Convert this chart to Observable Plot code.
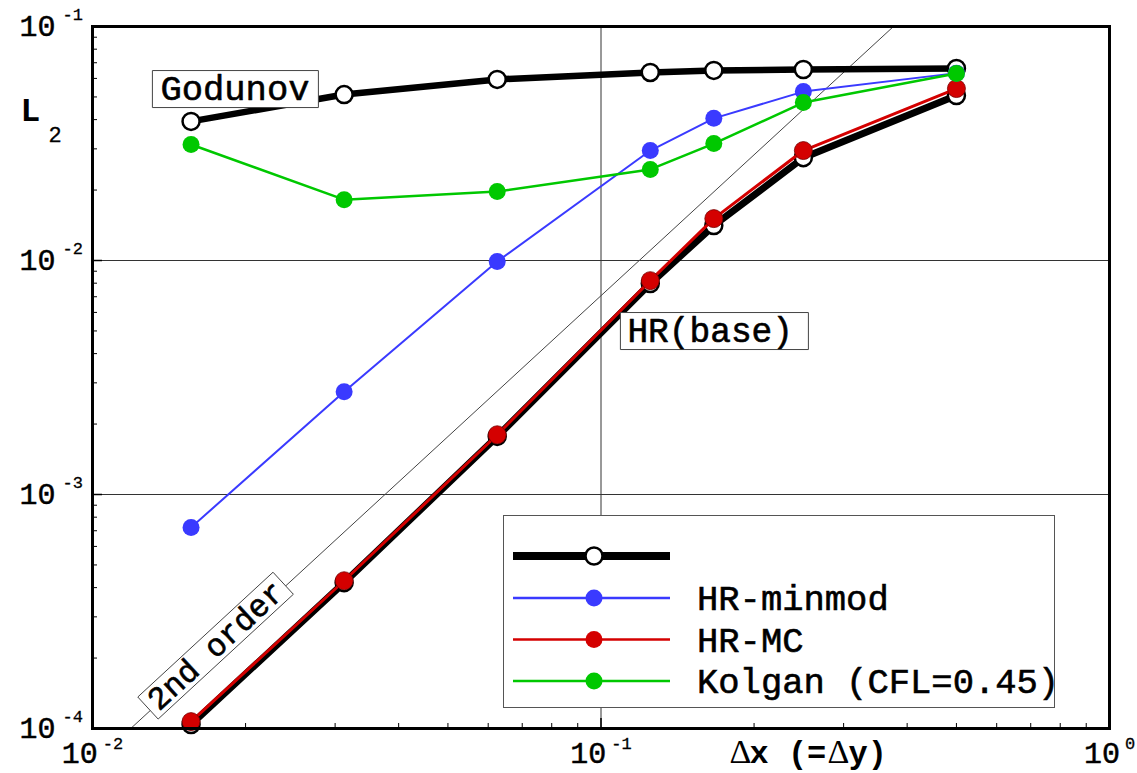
<!DOCTYPE html>
<html><head><meta charset="utf-8">
<script src="https://cdn.jsdelivr.net/npm/d3@7"></script>
<script src="https://cdn.jsdelivr.net/npm/@observablehq/plot@0.6"></script>
<style>
html,body{margin:0;padding:0;background:#fff;}
#wrap{position:relative;width:1137px;height:773px;overflow:hidden;}
#wrap svg{display:block;}
#legend{position:absolute;left:0;top:0;pointer-events:none;}
</style></head><body><div id="wrap"></div>
<script>
// ---- data ----
const dxValues  = [1/64, 1/32, 1/16, 1/8, 1/6, 1/4, 1/2];
const godunov   = [0.0393, 0.0512, 0.0594, 0.0636, 0.0649, 0.0655, 0.0662];
const hrBase    = [1.04e-4, 4.20e-4, 1.77e-3, 7.97e-3, 0.0141, 0.0275, 0.0507];
const hrMC      = [1.07e-4, 4.28e-4, 1.80e-3, 8.20e-3, 0.0151, 0.0295, 0.0543];
const hrMinmod  = [7.23e-4, 2.75e-3, 9.90e-3, 0.0295, 0.0405, 0.0527, 0.0632];
const kolgan    = [0.0313, 0.0182, 0.0197, 0.0245, 0.0316, 0.0473, 0.0630];
const secondOrderX = [0.01189, 0.376];
const secondOrderY = [1e-4, 0.1];
const seriesNames = ["", "HR-minmod", "HR-MC", "Kolgan (CFL=0.45)"];
const xMajor = [0.01, 0.1, 1];
const yMajor = [1e-4, 1e-3, 1e-2, 1e-1];
const gridX = [0.1];
const gridY = [1e-3, 1e-2];
const annoGodunov = {x: 0.0136, y: 0.0543, text: "Godunov"};
const annoBase    = {x: 0.1127, y: 5.02e-3, text: "HR(base)"};
const annoOrder   = {x: 0.01746, y: 2.26e-4, text: "2nd order"};

// ---- layout ----
const W = 1137, H = 773, mL = 92, mR = 28, mT = 26, mB = 45;
const frameW = W - mL - mR, frameH = H - mT - mB;
const mono = "'Liberation Mono','Courier New',monospace";
const serif = "'Liberation Serif','DejaVu Serif',serif";
const heavy = {fill: "black", stroke: "black", strokeWidth: 0.6};

const rows = ys => dxValues.map((x, i) => ({x, y: ys[i]}));
const minorX = [], minorY = [];
for (let d = -2; d < 0; d++) for (let k = 2; k <= 9; k++) minorX.push(k * 10 ** d);
for (let d = -4; d < -1; d++) for (let k = 2; k <= 9; k++) minorY.push(k * 10 ** d);
const order = secondOrderX.map((x, i) => ({x, y: secondOrderY[i]}));

function boxSymbol(x0, y0, x1, y1, deg = 0) {
  const a = deg * Math.PI / 180, c = Math.cos(a), s = Math.sin(a);
  const pts = [[x0, y0], [x1, y0], [x1, y1], [x0, y1]].map(([x, y]) => [x * c - y * s, x * s + y * c]);
  return {draw(ctx) { ctx.moveTo(...pts[0]); for (const p of pts.slice(1)) ctx.lineTo(...p); ctx.closePath(); }};
}

const expOf = d => String(Math.round(Math.log10(d)));
const xLabelMarks = xMajor.flatMap(v => {
  const e = expOf(v);
  const total = 36 + 5 + e.length * 10.2;
  const start = -total / 2;
  return [
    Plot.text([v], {x: d => d, text: () => "10", frameAnchor: "bottom", lineAnchor: "middle", textAnchor: "end", dx: start + 36, dy: 25, fontSize: 30, fontFamily: mono, ...heavy, strokeWidth: 0.5}),
    Plot.text([v], {x: d => d, text: d => expOf(d), frameAnchor: "bottom", lineAnchor: "middle", textAnchor: "start", dx: start + 41, dy: 15, fontSize: 17, fontFamily: mono, ...heavy, strokeWidth: 0.3})
  ];
});

const titleOpts = {frameAnchor: "bottom-left", lineAnchor: "middle", textAnchor: "start", dy: 24, fill: "black"};

const plot = Plot.plot({
  width: W, height: H,
  marginLeft: mL, marginRight: mR, marginTop: mT, marginBottom: mB,
  x: {type: "log", domain: [0.01, 1]},
  y: {type: "log", domain: [1e-4, 1e-1]},
  axis: null,
  style: {background: "white", overflow: "visible"},
  marks: [
    Plot.ruleX(gridX, {x: d => d, stroke: "#333", strokeWidth: 1}),
    Plot.ruleY(gridY, {y: d => d, stroke: "#333", strokeWidth: 1}),
    Plot.line(order, {x: "x", y: "y", stroke: "#444", strokeWidth: 1, clip: true}),
    // Godunov
    Plot.line(rows(godunov), {x: "x", y: "y", stroke: "black", strokeWidth: 6.5}),
    Plot.dot(rows(godunov), {x: "x", y: "y", r: 8.5, fill: "white", stroke: "black", strokeWidth: 2.5}),
    // HR(base)
    Plot.line(rows(hrBase), {x: "x", y: "y", stroke: "black", strokeWidth: 7}),
    Plot.dot(rows(hrBase), {x: "x", y: "y", r: 8.5, fill: "white", stroke: "black", strokeWidth: 2.5}),
    // HR-MC
    Plot.line(rows(hrMC), {x: "x", y: "y", stroke: "#d40000", strokeWidth: 3}),
    Plot.dot(rows(hrMC), {x: "x", y: "y", r: 9, fill: "#d40000", stroke: "#700", strokeWidth: 0.8}),
    // HR-minmod
    Plot.line(rows(hrMinmod), {x: "x", y: "y", stroke: "#3a3aff", strokeWidth: 2}),
    Plot.dot(rows(hrMinmod), {x: "x", y: "y", r: 8.5, fill: "#3a3aff"}),
    // Kolgan
    Plot.line(rows(kolgan), {x: "x", y: "y", stroke: "#00c800", strokeWidth: 2.5}),
    Plot.dot(rows(kolgan), {x: "x", y: "y", r: 8.5, fill: "#00c800"}),
    // annotations
    Plot.dot([annoGodunov], {x: "x", y: "y", symbol: boxSymbol(-8, -18, 158, 19), fill: "white", stroke: "#444", strokeWidth: 1}),
    Plot.text([annoGodunov], {x: "x", y: "y", text: "text", textAnchor: "start", fontSize: 35.5, fontFamily: mono, ...heavy}),
    Plot.dot([annoBase], {x: "x", y: "y", symbol: boxSymbol(-7, -18, 181, 19), fill: "white", stroke: "#444", strokeWidth: 1}),
    Plot.text([annoBase], {x: "x", y: "y", text: "text", textAnchor: "start", fontSize: 34.5, fontFamily: mono, ...heavy}),
    Plot.dot([annoOrder], {x: "x", y: "y", symbol: boxSymbol(-92, -15, 92, 15, -42.7), fill: "white", stroke: "#444", strokeWidth: 1}),
    Plot.text([annoOrder], {x: "x", y: "y", text: "text", rotate: -42.7, textAnchor: "middle", fontSize: 32, fontFamily: mono, ...heavy}),
    // ticks (inside)
    Plot.tickX(minorX, {x: d => d, insetTop: frameH - 5, stroke: "black", strokeWidth: 1}),
    Plot.tickX(xMajor, {x: d => d, insetTop: frameH - 10, stroke: "black", strokeWidth: 1.5}),
    Plot.tickY(minorY, {y: d => d, insetRight: frameW - 5, stroke: "black", strokeWidth: 1}),
    Plot.tickY(yMajor, {y: d => d, insetRight: frameW - 10, stroke: "black", strokeWidth: 1.5}),
    Plot.frame({stroke: "black", strokeWidth: 3}),
    // y tick labels
    Plot.text(yMajor, {y: d => d, text: () => "10", frameAnchor: "left", lineAnchor: "middle", textAnchor: "end", dx: -37, fontSize: 30, fontFamily: mono, ...heavy, strokeWidth: 0.5}),
    Plot.text(yMajor, {y: d => d, text: d => expOf(d), frameAnchor: "left", lineAnchor: "middle", textAnchor: "start", dx: -30, dy: -12, fontSize: 17, fontFamily: mono, ...heavy, strokeWidth: 0.3}),
    ...xLabelMarks,
    // axis titles
    Plot.text(["L"], {text: d => d, frameAnchor: "top-left", lineAnchor: "middle", textAnchor: "start", dx: -72, dy: 84, fontSize: 33, fontWeight: "bold", fontFamily: mono, fill: "black"}),
    Plot.text(["2"], {text: d => d, frameAnchor: "top-left", lineAnchor: "middle", textAnchor: "start", dx: -44, dy: 108, fontSize: 22, fontFamily: mono, ...heavy, strokeWidth: 0.3}),
    Plot.text(["\u0394"], {...titleOpts, text: d => d, dx: 637, fontSize: 34, fontFamily: serif}),
    Plot.text(["x (="], {...titleOpts, text: d => d, dx: 657, fontSize: 32, fontWeight: "bold", fontFamily: mono}),
    Plot.text(["\u0394"], {...titleOpts, text: d => d, dx: 735, fontSize: 34, fontFamily: serif}),
    Plot.text(["y)"], {...titleOpts, text: d => d, dx: 756, fontSize: 32, fontWeight: "bold", fontFamily: mono})
  ]
});
const wrap = document.getElementById("wrap");
wrap.appendChild(plot);

// ---- legend (overlay inside the frame) ----
const legendStyles = [
  {stroke: "black", width: 8, fill: "white", dotStroke: "black", dotStrokeWidth: 2.5},
  {stroke: "#3a3aff", width: 2.5, fill: "#3a3aff", dotStroke: "none", dotStrokeWidth: 0},
  {stroke: "#d40000", width: 2.5, fill: "#d40000", dotStroke: "none", dotStrokeWidth: 0},
  {stroke: "#00c800", width: 2.5, fill: "#00c800", dotStroke: "none", dotStrokeWidth: 0}
];
const lg = d3.select(wrap).append("svg").attr("id", "legend").attr("width", W).attr("height", H);
lg.append("rect").attr("x", 503.5).attr("y", 515.5).attr("width", 551).attr("height", 192)
  .attr("fill", "white").attr("stroke", "#555").attr("stroke-width", 1);
const rowY = [556, 598, 639.5, 681];
seriesNames.forEach((name, i) => {
  const s = legendStyles[i], y = rowY[i];
  lg.append("line").attr("x1", 513).attr("x2", 670).attr("y1", y).attr("y2", y)
    .attr("stroke", s.stroke).attr("stroke-width", s.width);
  lg.append("circle").attr("cx", 594).attr("cy", y).attr("r", 8.5)
    .attr("fill", s.fill).attr("stroke", s.dotStroke).attr("stroke-width", s.dotStrokeWidth);
  lg.append("text").attr("x", 697).attr("y", y).attr("dy", "0.35em")
    .attr("font-family", mono).attr("font-size", 35.5).attr("fill", "black")
    .attr("stroke", "black").attr("stroke-width", 0.6).text(name);
});
</script></body></html>
